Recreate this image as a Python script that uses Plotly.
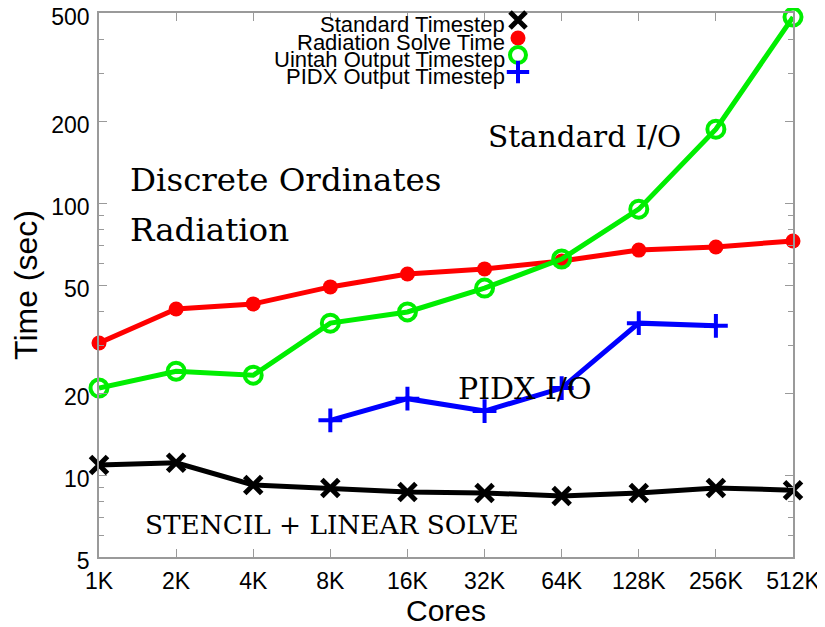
import plotly.graph_objects as go

cores_k = [1, 2, 4, 8, 16, 32, 64, 128, 256, 512]
tick_labels = ["1K", "2K", "4K", "8K", "16K", "32K", "64K", "128K", "256K", "512K"]

standard_timestep = [10.9, 11.1, 9.2, 8.97, 8.67, 8.6, 8.38, 8.6, 8.97, 8.8]
radiation_solve = [30.6, 40.8, 42.6, 49.2, 54.9, 57.3, 61.3, 67.2, 69.0, 72.6]
uintah_output = [20.9, 24.1, 23.3, 36.2, 39.8, 48.7, 62.3, 95.0, 187.0, 483.0]
pidx_cores_k = [8, 16, 32, 64, 128, 256]
pidx_output = [15.9, 19.1, 17.2, 20.9, 36.2, 35.4]

y_ticks = [5, 10, 20, 50, 100, 200, 500]
y_minor = [6, 7, 8, 9, 30, 40, 60, 70, 80, 90, 300, 400]

series_names = ["Standard Timestep", "Radiation Solve Time",
                "Uintah Output Timestep", "PIDX Output Timestep"]

styles = [
    dict(color="black", symbol="x-thin", size=17, lw=5),
    dict(color="#ff0000", symbol="circle", size=15, lw=0),
    dict(color="#00ee00", symbol="circle-open", size=17, lw=4),
    dict(color="#0000ff", symbol="cross-thin", size=17, lw=4),
]

data = [
    (cores_k, standard_timestep),
    (cores_k, radiation_solve),
    (cores_k, uintah_output),
    (pidx_cores_k, pidx_output),
]

# page has an 8px body margin: figure is placed at (8, 8)
OFF = 8
W, H = 825 - OFF, 627 - OFF
L, R, T, B = 99, 793, 13, 557  # plot area in page pixels


def px(x):
    return (x - L) / (R - L)


def py(y):
    return (B - y) / (B - T)


legend_ids = ["legend", "legend2", "legend3", "legend4"]

fig = go.Figure()
for name, (xs, ys), st in zip(series_names, data, styles):
    fig.add_trace(go.Scatter(
        x=xs, y=ys, name=name, mode="lines+markers",
        line=dict(color=st["color"], width=5),
        marker=dict(symbol=st["symbol"], size=st["size"], color=st["color"],
                    line=dict(color=st["color"], width=st["lw"])),
        cliponaxis=False, showlegend=False,
    ))

# legend-only entries: symbols sit to the right of the labels, like the original
for name, st, lid in zip(series_names, styles, legend_ids):
    fig.add_trace(go.Scatter(
        x=[None], y=[None], name="", mode="markers", legend=lid,
        marker=dict(symbol=st["symbol"], size=st["size"], color=st["color"],
                    line=dict(color=st["color"], width=st["lw"])),
        showlegend=True, hoverinfo="skip",
    ))

legend_rows = [20, 38, 55, 72]
legends = {}
for lid, row in zip(legend_ids, legend_rows):
    legends[lid] = dict(
        x=px(498), y=py(row), xanchor="left", yanchor="middle",
        bgcolor="rgba(0,0,0,0)", borderwidth=0, font=dict(size=10),
        itemwidth=30,
    )

annotations = []
serif = dict(family="DejaVu Serif, Liberation Serif, serif", color="black")
for text, x0, yc, size in [
    ("Discrete Ordinates", 128, 180, 32.5),
    ("Radiation", 128, 230, 32.5),
    ("Standard I/O", 486, 137, 29.5),
    ("PIDX I/O", 456, 388, 30),
    ("STENCIL + LINEAR SOLVE", 143, 525, 26.3),
]:
    annotations.append(dict(
        text=text, x=px(x0), y=py(yc), xref="paper", yref="paper",
        xanchor="left", yanchor="middle", showarrow=False,
        font=dict(size=size, **serif),
    ))

for name, row in zip(series_names, legend_rows):
    annotations.append(dict(
        text=name, x=px(507), y=py(row + 4), xref="paper", yref="paper",
        xanchor="right", yanchor="middle", showarrow=False,
        font=dict(size=22, family="Liberation Sans, Arial, sans-serif", color="black"),
    ))

axis_col = "#9a9a9a"
fig.update_layout(
    width=W, height=H,
    margin=dict(l=L - OFF, r=W + OFF - R, t=T - OFF, b=H + OFF - B, autoexpand=False),
    paper_bgcolor="white", plot_bgcolor="white",
    font=dict(family="Liberation Sans, Arial, sans-serif", color="black", size=23),
    annotations=annotations,
    xaxis=dict(
        type="log", range=[0, 2.70927], tickvals=cores_k, ticktext=tick_labels,
        ticks="inside", ticklen=8, tickcolor=axis_col, showgrid=False, zeroline=False,
        showline=True, linecolor=axis_col, linewidth=1.5, mirror="ticks",
        automargin=False, ticklabelstandoff=3, ticklabeloverflow="allow",
        tickfont=dict(size=23), title=dict(text="Cores", font=dict(size=30), standoff=19),
    ),
    yaxis=dict(
        type="log", range=[0.69897, 2.69897], tickvals=y_ticks,
        ticktext=[str(v) for v in y_ticks],
        ticks="inside", ticklen=8, tickcolor=axis_col, showgrid=False, zeroline=False,
        showline=True, linecolor=axis_col, linewidth=1.5, mirror="ticks",
        automargin=False, ticklabelstandoff=3, ticklabelshift=4,
        ticklabeloverflow="allow",
        minor=dict(tickvals=y_minor, ticks="inside", ticklen=5, tickcolor=axis_col),
        tickfont=dict(size=23), title=dict(text="Time (sec)", font=dict(size=32), standoff=6),
    ),
    **legends,
)

fig.write_html("out.html")
